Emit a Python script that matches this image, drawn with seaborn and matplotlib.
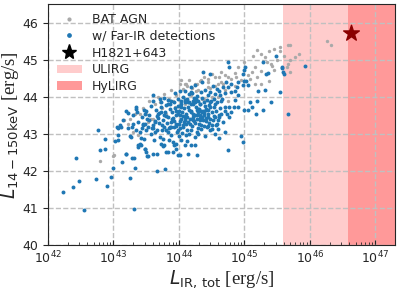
import numpy as np
import pandas as pd
import seaborn as sns
import matplotlib
matplotlib.use("Agg")
from matplotlib import pyplot as plt
from matplotlib.lines import Line2D
from matplotlib.patches import Patch

# log10 L_IR,tot [erg/s] and L_14-150keV for the Far-IR detected sources
fir_logLIR = [
    42.23, 42.38, 42.43, 42.47, 42.55, 42.74, 42.80, 42.87, 42.90, 42.97, 43.00, 43.13,
    43.19, 43.26, 43.28, 43.32, 43.33, 43.32, 43.37, 43.42, 43.49, 43.50, 43.52, 43.53,
    43.60, 43.66, 43.67, 43.76, 43.79, 43.81, 43.83, 43.91, 43.93, 43.99, 44.02, 44.27,
    44.62, 44.75, 44.95, 44.98, 44.99, 45.05, 45.09, 45.11, 45.18, 45.19, 45.28, 45.41,
    45.66, 44.90, 44.84, 44.76, 44.71, 44.76, 44.71, 44.65, 44.60, 44.62, 44.55, 44.56,
    44.60, 44.50, 44.47, 44.44, 44.34, 44.29, 44.27, 44.32, 44.37, 44.39, 44.44, 44.50,
    44.42, 44.34, 44.29, 44.47, 44.55, 44.65, 44.85,
    44.37, 44.75, 44.77, 44.99, 45.01, 44.98, 45.00, 45.03, 45.05, 44.98, 44.90, 44.89,
    44.79, 44.75, 44.72, 44.67, 44.62, 44.80, 44.55, 44.47, 44.34, 44.24, 45.28, 45.33,
    45.36, 45.49, 45.57, 45.59, 45.60, 45.21, 45.31, 45.54, 45.93, 45.58,
    43.61, 43.94, 44.09, 44.18, 43.22, 43.35, 43.47, 43.48, 43.55, 43.68, 43.73, 43.81,
    43.86, 43.76, 43.83, 43.88, 43.96, 44.04, 43.99, 44.06, 44.14, 44.21, 44.16, 44.11,
    44.19, 44.24, 44.04, 44.14, 43.96, 43.63, 43.38, 43.30,
    43.07, 43.12, 43.23, 43.25, 43.07, 43.02, 43.38, 43.40, 43.47, 43.48, 43.20, 43.91,
    43.78, 43.73, 43.76, 43.71, 43.63, 43.61, 43.48, 43.53, 43.45, 43.96, 44.04, 44.09,
    44.14, 44.19, 44.11, 43.88, 43.83, 43.78, 43.88, 43.99, 44.06, 44.19, 44.24,
    44.47, 43.15, 43.10, 43.07, 43.28, 43.35, 43.35, 43.20, 42.77, 42.87, 43.05, 43.45,
    43.50, 43.61, 43.83, 44.01, 44.19,
    43.70, 43.74, 43.79, 43.85, 43.87, 43.90, 43.92, 43.95, 43.97, 44.00, 44.01, 44.03,
    44.05, 44.07, 44.08, 44.10, 44.12, 44.13, 44.15, 44.17, 44.18, 44.20, 44.22, 44.23,
    44.25, 44.26, 44.28, 44.30, 44.31, 44.33, 44.35, 44.36, 44.38, 44.40, 44.41, 44.43,
    44.45, 44.46, 44.48, 44.52, 44.53, 44.57, 44.58, 44.63, 44.68, 44.70, 44.73, 44.80,
    43.65, 43.68, 43.72, 43.77, 43.82, 43.84, 43.89, 43.93, 43.98, 44.02, 44.06, 44.09,
    44.11, 44.14, 44.16, 44.21, 44.24, 44.27, 44.29, 44.32, 44.34, 44.37, 44.39, 44.42,
    44.44, 44.49, 44.51, 44.54, 44.59, 44.61, 44.66, 43.58, 43.62, 43.67, 43.71, 43.57,
    43.54, 43.44, 43.40, 43.30, 43.42, 43.85, 44.00, 43.95, 44.12, 44.25, 44.40, 44.30,
    44.55, 44.28, 44.40, 44.45, 44.52, 44.58, 44.35, 44.20, 44.63, 44.70, 44.85, 44.90,
    43.91, 43.96, 44.02, 44.08, 44.13, 44.19, 44.23, 44.27, 44.33, 44.38, 43.86, 43.80,
    43.75, 43.69, 43.64, 43.59, 43.94, 44.04, 44.15, 44.26, 44.36, 44.46, 44.05, 44.17,
    43.88, 43.78, 43.66, 43.52, 43.43, 43.36, 43.27, 44.00, 44.10, 44.21, 44.31, 44.43,
    44.53, 43.81, 43.72, 43.98, 44.09, 44.22, 44.32, 43.92, 43.60, 43.50, 44.41, 44.48,
]
fir_logLX = [
    41.43, 41.56, 42.34, 41.74, 40.95, 41.78, 42.58, 42.59, 41.60, 41.83, 42.08, 42.25,
    42.47, 41.80, 42.34, 42.34, 42.07, 40.97, 42.65, 42.70, 42.60, 42.50, 42.40, 42.40,
    42.47, 42.00, 42.47, 42.67, 42.05, 42.50, 42.51, 42.50, 42.70, 42.44, 42.43, 42.44,
    42.89, 42.56, 42.94, 42.77, 43.64, 43.64, 43.86, 43.74, 43.55, 43.88, 43.64, 43.86,
    43.55, 43.74, 43.72, 43.72, 43.72, 43.45, 43.62, 43.55, 43.37, 43.50, 43.45, 43.23,
    43.14, 43.14, 43.10, 43.21, 43.14, 43.16, 43.41, 43.37, 43.37, 43.50, 43.45, 43.59,
    43.68, 43.63, 43.68, 43.86, 43.81, 43.88, 43.93,
    44.66, 44.93, 44.82, 44.73, 44.80, 44.62, 44.44, 44.44, 44.31, 44.31, 44.40, 44.26,
    44.35, 44.28, 44.40, 44.26, 44.17, 44.13, 44.08, 44.13, 44.13, 44.31, 44.93, 44.62,
    44.64, 45.11, 44.80, 44.66, 44.62, 44.17, 44.19, 44.13, 44.84, 44.78,
    44.06, 44.10, 44.17, 44.26, 43.56, 43.68, 43.65, 43.55, 43.50, 43.55, 43.72, 43.77,
    43.81, 43.37, 43.45, 43.32, 43.63, 43.81, 43.95, 43.99, 43.86, 43.90, 44.08, 43.55,
    43.63, 43.50, 43.41, 43.32, 43.28, 43.32, 43.32, 43.28,
    43.17, 43.19, 43.17, 42.94, 42.83, 42.81, 42.69, 42.72, 42.87, 42.60, 42.47, 42.78,
    42.69, 42.74, 42.87, 42.92, 43.05, 43.17, 43.26, 43.19, 43.28, 42.74, 42.83, 42.69,
    42.47, 42.69, 42.96, 42.96, 43.05, 43.19, 43.20, 43.10, 43.19, 43.10, 42.92,
    44.62, 43.37, 43.23, 42.96, 43.19, 43.10, 43.74, 43.63, 43.10, 42.87, 43.19, 43.23,
    43.63, 43.90, 43.81, 44.17, 44.13,
    43.30, 43.12, 43.60, 43.15, 43.68, 43.40, 43.85, 43.50, 43.05, 43.62, 43.35, 43.90,
    43.58, 43.25, 43.70, 43.45, 43.95, 43.12, 43.66, 43.40, 43.80, 43.22, 43.55, 43.98,
    43.30, 43.74, 43.52, 43.90, 43.28, 43.80, 43.47, 43.98, 43.22, 43.75, 43.35, 43.92,
    43.55, 43.30, 43.72, 43.38, 43.95, 43.62, 43.28, 43.70, 43.32, 43.05, 43.55, 43.60,
    43.65, 43.42, 43.85, 43.50, 43.30, 43.92, 43.58, 43.18, 43.75, 43.15, 43.48, 43.85,
    43.28, 43.72, 43.00, 43.38, 43.85, 43.05, 43.60, 43.82, 43.25, 43.62, 43.85, 43.42,
    43.65, 43.90, 43.25, 43.72, 43.85, 43.45, 43.95, 43.00, 42.85, 43.10, 43.95, 43.75,
    43.38, 43.45, 43.05, 43.50, 42.90, 42.85, 42.95, 42.60, 42.80, 42.70, 42.95, 43.00,
    43.00, 44.02, 44.20, 44.05, 44.30, 44.22, 44.40, 44.10, 44.05, 44.10, 44.15, 44.05,
    43.44, 43.22, 43.52, 43.33, 43.47, 43.58, 43.35, 43.66, 43.43, 43.56, 43.20, 43.48,
    43.24, 43.57, 43.36, 43.16, 43.70, 43.73, 43.87, 43.94, 43.58, 43.78, 43.02, 43.27,
    43.90, 43.96, 43.48, 43.40, 43.15, 43.60, 42.92, 43.28, 43.92, 43.82, 43.68, 43.18,
    43.48, 43.10, 43.58, 43.53, 43.37, 43.46, 43.52, 43.35, 43.24, 43.12, 43.66, 43.40,
]

# all BAT AGN (only the ones peeking out behind the blue points)
bat_logLIR = [
    42.80, 43.00, 43.01, 45.20, 45.26, 45.38, 45.31, 45.13, 45.40, 45.43, 45.16, 45.11,
    45.46, 45.26, 45.54, 45.60, 45.00, 44.90, 44.85, 44.65, 44.62, 44.70, 44.55, 44.50,
    44.44, 44.39, 44.32, 44.27, 44.80, 44.88, 45.08, 45.16, 45.26, 45.38, 44.60, 44.44,
    45.66, 45.70, 45.83, 45.77, 45.69, 45.66, 45.65, 45.69, 46.26, 46.32, 45.54,
    44.39, 44.75, 43.63, 43.71, 43.91, 44.01, 44.09, 44.11, 43.94, 43.17, 43.25, 43.81,
    43.58, 43.22, 43.30, 43.38, 43.53, 44.24, 44.01, 44.09, 44.04, 44.11, 43.61,
    44.15, 44.20, 44.30, 44.45, 44.55, 44.65, 44.75, 44.95, 45.05, 44.50, 43.95, 43.85,
    43.75, 44.18, 43.50, 43.40, 44.35, 44.60, 44.70, 44.85, 45.20, 45.35, 45.50, 45.45,
    43.45, 43.68, 43.88, 44.06, 44.26, 44.48, 44.68, 43.33, 43.55, 43.78, 44.13, 44.34,
]
bat_logLX = [
    42.28, 42.40, 42.42, 45.27, 45.17, 45.23, 45.09, 45.11, 44.89, 44.84, 44.80, 44.66,
    44.73, 44.71, 45.23, 45.11, 44.93, 44.80, 44.64, 44.66, 44.53, 44.58, 44.55, 44.62,
    44.49, 44.53, 44.44, 44.35, 44.49, 44.53, 44.49, 44.35, 44.35, 44.44, 44.35, 44.26,
    45.41, 45.41, 45.17, 45.07, 45.00, 44.89, 44.80, 44.66, 45.50, 45.40, 45.35,
    43.95, 43.90, 43.81, 43.86, 43.90, 43.77, 43.81, 43.95, 43.72, 43.37, 43.41, 43.55,
    43.41, 43.28, 43.05, 42.96, 43.32, 44.35, 44.35, 44.35, 44.47, 44.35, 43.41,
    44.45, 44.25, 44.20, 44.40, 44.30, 44.40, 44.55, 44.45, 44.60, 44.00, 44.05, 43.95,
    43.70, 44.05, 43.55, 43.55, 43.95, 44.00, 44.20, 44.30, 44.55, 44.95, 45.00, 45.30,
    43.70, 44.00, 44.18, 44.22, 44.15, 44.25, 44.35, 43.55, 43.90, 44.08, 44.30, 44.45,
]

h1821_LIR = 4.3e46
h1821_LX = 45.73
ulirg_lo = 3.83e45   # 1e12 Lsun
hylirg_lo = 3.83e46  # 1e13 Lsun

bat = pd.DataFrame({"LIR": 10 ** np.array(bat_logLIR), "LX": bat_logLX})
fir = pd.DataFrame({"LIR": 10 ** np.array(fir_logLIR), "LX": fir_logLX})

sns.set_style("ticks")
fig = plt.figure(figsize=(3.99, 2.9), dpi=100)
ax = fig.add_axes([0.12, 0.155, 0.87, 0.83])

ax.axvspan(ulirg_lo, hylirg_lo, color="red", alpha=0.2, lw=0, zorder=0)
ax.axvspan(hylirg_lo, 1e48, color="red", alpha=0.4, lw=0, zorder=0)

sns.scatterplot(data=bat, x="LIR", y="LX", ax=ax, color="darkgray", s=6,
                linewidth=0, zorder=2)
sns.scatterplot(data=fir, x="LIR", y="LX", ax=ax, color="tab:blue", s=8,
                linewidth=0, zorder=3)
ax.scatter([h1821_LIR], [h1821_LX], marker="*", s=140, color="darkred", zorder=4)

ax.set_xscale("log")
ax.set_xlim(1e42, 2e47)
ax.set_ylim(40, 46.5)
ax.set_yticks([40, 41, 42, 43, 44, 45, 46])
ax.grid(True, ls="--", color="#c0c0c0", lw=1.0, zorder=1)
ax.set_axisbelow(True)
ax.tick_params(axis="x", which="both", direction="in", labelsize=9)
ax.tick_params(axis="y", labelsize=9)

ax.set_xlabel(r"$L_{\rm IR,\,tot}$ [erg/s]", fontsize=13.5, family="Liberation Serif",
              labelpad=1)
ax.set_ylabel(r"$L_{\rm 14-150keV}$ [erg/s]", fontsize=13.5, family="Liberation Serif",
              labelpad=1)

handles = [
    Line2D([], [], ls="", marker="o", ms=2, color="darkgray", label="BAT AGN"),
    Line2D([], [], ls="", marker="o", ms=2.4, color="tab:blue", label="w/ Far-IR detections"),
    Line2D([], [], ls="", marker="*", ms=11, color="black", label="H1821+643"),
    Patch(facecolor="red", alpha=0.2, lw=0, label="ULIRG"),
    Patch(facecolor="red", alpha=0.4, lw=0, label="HyLIRG"),
]
ax.legend(handles=handles, loc="upper left", frameon=False, fontsize=9,
          labelspacing=0.3, borderaxespad=0.3)

fig.savefig("out.png", dpi=100)
